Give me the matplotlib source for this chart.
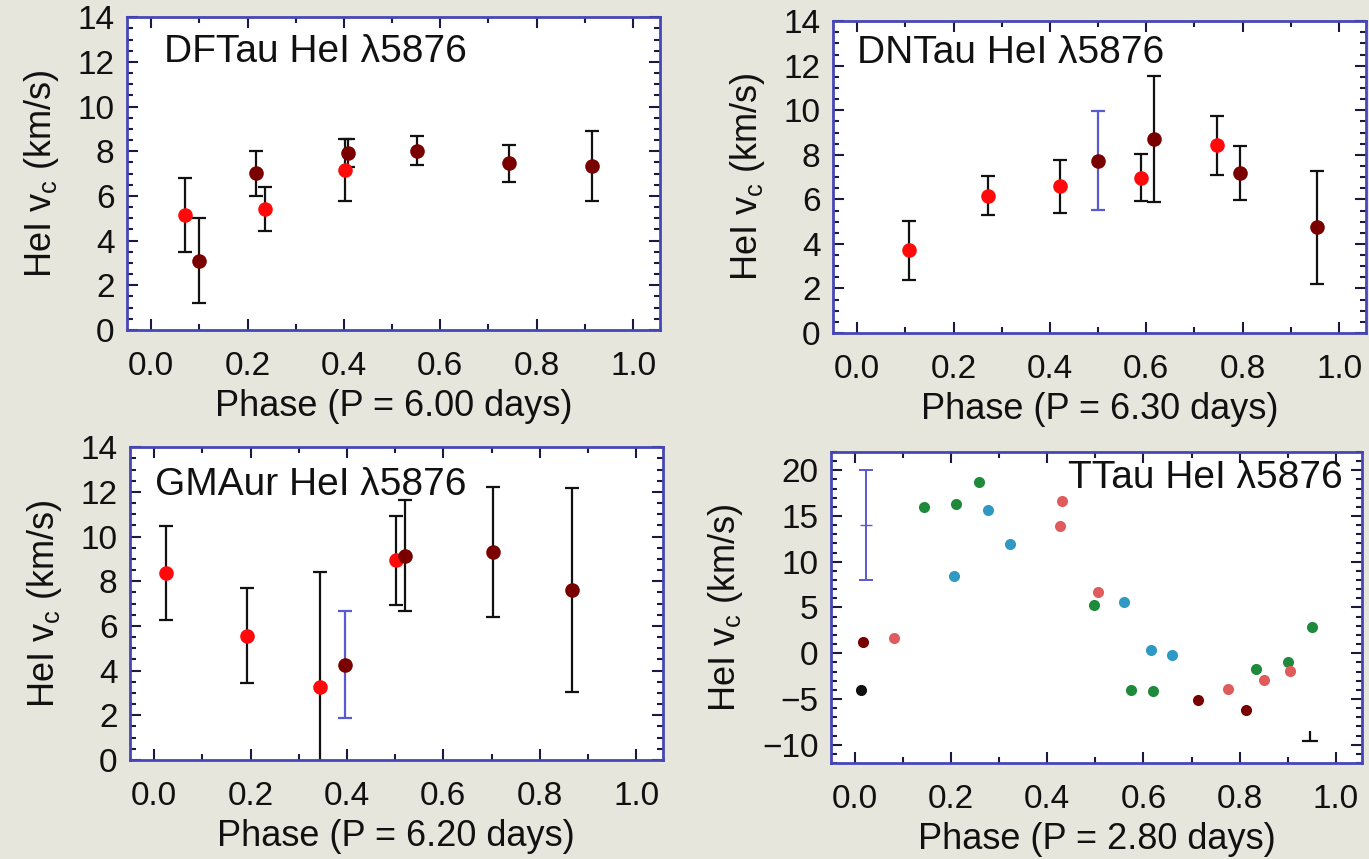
import numpy as np
import matplotlib.pyplot as plt
from matplotlib.ticker import MultipleLocator

plt.rcParams['font.family'] = ['Liberation Sans', 'DejaVu Sans']
plt.rcParams['mathtext.default'] = 'regular'

# DF Tau
df_phase = [0.071, 0.100, 0.218, 0.236, 0.402, 0.409, 0.551, 0.743, 0.914]
df_vel = [5.15, 3.09, 7.01, 5.42, 7.16, 7.91, 8.03, 7.46, 7.34]
df_err = [1.65, 1.90, 1.00, 0.98, 1.40, 0.63, 0.67, 0.82, 1.55]
df_col = ['r', 'd', 'd', 'r', 'r', 'd', 'd', 'd', 'd']
df_ecol = ['k'] * 9

# DN Tau
dn_phase = [0.108, 0.271, 0.420, 0.500, 0.590, 0.617, 0.746, 0.794, 0.955]
dn_vel = [3.71, 6.17, 6.58, 7.74, 6.97, 8.71, 8.43, 7.19, 4.75]
dn_err = [1.31, 0.87, 1.18, 2.23, 1.05, 2.84, 1.32, 1.20, 2.54]
dn_col = ['r', 'r', 'r', 'd', 'r', 'd', 'r', 'd', 'd']
dn_ecol = ['k', 'k', 'k', 'b', 'k', 'k', 'k', 'k', 'k']

# GM Aur
gm_phase = [0.025, 0.192, 0.344, 0.397, 0.501, 0.521, 0.703, 0.868]
gm_vel = [8.37, 5.57, 3.25, 4.27, 8.94, 9.15, 9.30, 7.60]
gm_err = [2.09, 2.14, 5.15, 2.39, 1.98, 2.50, 2.92, 4.57]
gm_col = ['r', 'r', 'r', 'd', 'r', 'd', 'd', 'd']
gm_ecol = ['k', 'k', 'k', 'b', 'k', 'k', 'k', 'k']

# T Tau (no individual error bars)
tt_phase = [0.013, 0.016, 0.081, 0.144, 0.210, 0.206, 0.257, 0.277, 0.322,
            0.430, 0.427, 0.498, 0.505, 0.560, 0.575, 0.616, 0.619, 0.659,
            0.714, 0.775, 0.813, 0.834, 0.851, 0.900, 0.905, 0.950]
tt_vel = [-4.07, 1.18, 1.69, 15.98, 16.27, 8.42, 18.70, 15.66, 11.89,
          16.60, 13.88, 5.27, 6.64, 5.63, -4.03, 0.31, -4.10, -0.23,
          -5.12, -3.89, -6.24, -1.72, -2.95, -0.96, -1.90, 2.92]
tt_col = ['k', 'd', 'p', 'g', 'g', 'c', 'g', 'c', 'c',
          'p', 'p', 'g', 'p', 'c', 'g', 'c', 'g', 'c',
          'd', 'p', 'd', 'g', 'p', 'g', 'p', 'g']
tt_typ_err = (0.023, 14.0, 6.0)      # representative error bar
tt_mark = (0.947, -9.6, 1.1)          # small black marker at bottom right

colors = {'r': '#ff0a0a', 'd': '#7a0000', 'k': '#111111', 'b': '#5a5ad0',
          'p': '#e05c5c', 'g': '#1f8a3c', 'c': '#2e9ac4'}

titles = ['DFTau HeI \u03bb5876', 'DNTau HeI \u03bb5876',
          'GMAur HeI \u03bb5876', 'TTau HeI \u03bb5876']
periods = ['6.00', '6.30', '6.20', '2.80']

bg = '#e6e6dc'
spine_col = '#4646b8'

fig = plt.figure(figsize=(13.69, 8.59), dpi=100)
fig.patch.set_facecolor(bg)

positions = [[0.0928, 0.616, 0.389, 0.364],
             [0.6085, 0.6123, 0.389, 0.363],
             [0.095, 0.1153, 0.389, 0.364],
             [0.607, 0.1118, 0.388, 0.362]]
title_pos = [(0.069, 0.89, 'left'), (0.045, 0.897, 'left'),
             (0.047, 0.88, 'left'), (0.964, 0.916, 'right')]

axes = [fig.add_axes(p) for p in positions]

panels = [(df_phase, df_vel, df_err, df_col, df_ecol),
          (dn_phase, dn_vel, dn_err, dn_col, dn_ecol),
          (gm_phase, gm_vel, gm_err, gm_col, gm_ecol)]

for ax, (ph, v, e, c, ec) in zip(axes[:3], panels):
    for i in range(len(ph)):
        eb = ax.errorbar(ph[i], v[i], yerr=e[i], fmt='none',
                         ecolor=colors[ec[i]], elinewidth=1.6, capsize=5,
                         capthick=1.6, zorder=2)
        for cap in eb[1]:
            cap.set_color(colors['k'])
        ax.plot(ph[i], v[i], 'o', color=colors[c[i]], markersize=10.5,
                markeredgewidth=0, zorder=3)
    ax.set_ylim(0, 14)
    ax.yaxis.set_major_locator(MultipleLocator(2))
    ax.yaxis.set_minor_locator(MultipleLocator(0.5))

ax = axes[3]
for i in range(len(tt_phase)):
    ax.plot(tt_phase[i], tt_vel[i], 'o', color=colors[tt_col[i]],
            markersize=8, markeredgewidth=0, zorder=3)
ax.errorbar(tt_typ_err[0], tt_typ_err[1], yerr=tt_typ_err[2], fmt='_',
            color=colors['b'], markersize=9, elinewidth=1.4, capsize=5,
            capthick=1.4)
ax.errorbar(tt_mark[0], tt_mark[1], yerr=[[0], [tt_mark[2]]], fmt='_',
            color=colors['k'], markersize=12, markeredgewidth=1.6,
            elinewidth=1.6, capsize=0)
ax.set_ylim(-12, 22)
ax.yaxis.set_major_locator(MultipleLocator(5))
ax.yaxis.set_minor_locator(MultipleLocator(1))

for k, ax in enumerate(axes):
    ax.set_xlim(-0.05, 1.055)
    ax.xaxis.set_major_locator(MultipleLocator(0.2))
    ax.xaxis.set_minor_locator(MultipleLocator(0.1))
    ax.xaxis.set_major_formatter(plt.FormatStrFormatter('%.1f'))
    for s in ax.spines.values():
        s.set_color(spine_col)
        s.set_linewidth(2)
    ax.tick_params(which='both', direction='in', top=True, right=True,
                   color='#1a1a40', labelsize=24, labelcolor='#111111')
    ax.tick_params(which='major', length=8, width=1.5)
    ax.tick_params(which='minor', length=4, width=1.5)
    ax.tick_params(axis='x', pad=15)
    ax.tick_params(axis='y', pad=9)
    ax.set_xlabel('Phase (P = %s days)' % periods[k], fontsize=26,
                  color='#111111', labelpad=5)
    ax.set_ylabel('HeI v$_{c}$ (km/s)', fontsize=26, color='#111111',
                  labelpad=12)
    tx, ty, ha = title_pos[k]
    ax.text(tx, ty, titles[k], transform=ax.transAxes, fontsize=28,
            ha=ha, va='center', color='#111111')

fig.savefig('out.png', dpi=100, facecolor=bg)
